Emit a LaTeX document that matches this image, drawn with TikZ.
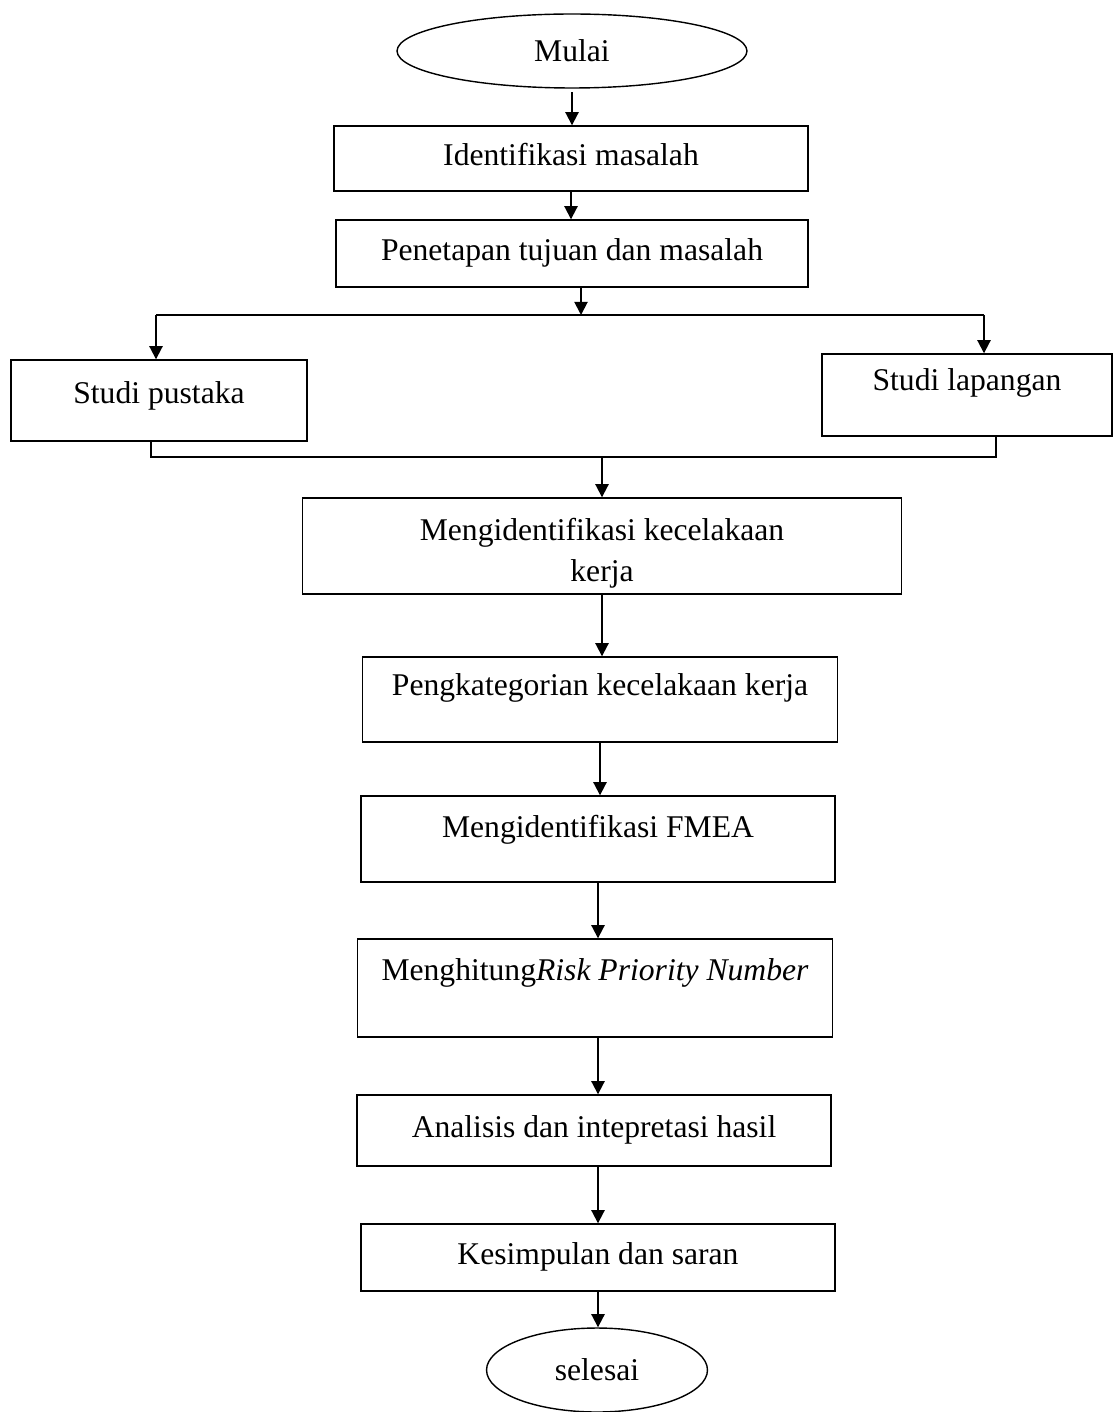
\documentclass[tikz,border=0pt]{standalone}
\usepackage{fontspec}
\setmainfont{Liberation Serif}
\usetikzlibrary{shapes.geometric, arrows.meta}

\begin{document}
\begin{tikzpicture}[x=0.02cm, y=-0.02cm, font=\fontsize{18pt}{23.8pt}\selectfont,
        box/.style={draw, line width=0.8pt, inner sep=0pt},
        txt/.style={text height=12.5pt, text depth=#1}, txt/.default=4pt,
        term/.style={draw, ellipse, line width=0.8pt, inner sep=0pt},
        arr/.style={line width=1.1pt, -{Triangle[length=7.5pt, width=7.5pt]}},
        link/.style={line width=1.1pt}]
        \useasboundingbox (0,0) rectangle (1114,1412);

        \node[term, minimum width=7cm, minimum height=1.48cm]           (mulai) at (572,51)      {Mulai};
        \node[box, txt, minimum width=9.48cm, minimum height=1.3cm]     (ident) at (571,158.5)   {Identifikasi masalah};
        \node[box, txt, minimum width=9.44cm, minimum height=1.34cm]    (penet) at (572,253.5)   {Penetapan tujuan dan masalah};
        \node[box, txt=9pt, minimum width=5.92cm, minimum height=1.62cm]   (pust) at (159,400.5) {Studi pustaka};
        \node[box, txt=17.6pt, minimum width=5.8cm, minimum height=1.64cm] (lap) at (967,395)    {Studi lapangan};
        \node[box, align=center, minimum width=11.98cm, minimum height=1.92cm] (mkk) at (602,546)
                {\rule{0pt}{21pt}Mengidentifikasi kecelakaan\\kerja};
        \node[box, txt=17pt, minimum width=9.5cm, minimum height=1.7cm]    (pkat) at (600,699.5) {Pengkategorian kecelakaan kerja};
        \node[box, txt=14pt, minimum width=9.48cm, minimum height=1.72cm]  (fmea) at (598,839)   {Mengidentifikasi FMEA};
        \node[box, txt=21pt, minimum width=9.5cm, minimum height=1.96cm]   (rpn) at (595,988)    {Menghitung\textit{Risk Priority Number}};
        \node[box, txt, minimum width=9.48cm, minimum height=1.42cm]    (anl) at (594,1130.5)    {Analisis dan intepretasi hasil};
        \node[box, txt, minimum width=9.48cm, minimum height=1.34cm]    (kes) at (598,1257.5)    {Kesimpulan dan saran};
        \node[term, minimum width=4.42cm, minimum height=1.68cm]        (sel) at (597,1370)      {selesai};

        % branch and join points
        \coordinate (split) at (581,315);
        \coordinate (brL)   at (156,315);
        \coordinate (brR)   at (984,315);
        \coordinate (joinL) at (151,457);
        \coordinate (joinR) at (996,457);
        \coordinate (join)  at (602,457);

        \draw[arr, shorten <=2pt] (mulai.south) -- (mulai.south |- ident.north);
        \draw[arr] (ident.south) -- (ident.south |- penet.north);
        \draw[arr] (penet.south -| split) -- (split);
        \draw[link] (brL) -- (brR);
        \draw[arr] (brL) -- (brL |- pust.north);
        \draw[arr] (brR) -- (brR |- lap.north);
        \draw[link] (pust.south -| joinL) -- (joinL) -- (joinR) -- (lap.south -| joinR);
        \draw[arr] (join) -- (join |- mkk.north);
        \draw[arr] (mkk.south) -- (mkk.south |- pkat.north);
        \draw[arr] (pkat.south) -- (pkat.south |- fmea.north);
        \draw[arr] (fmea.south) -- (fmea.south |- rpn.north);
        \draw[arr] (rpn.south -| kes.north) -- (anl.north -| kes.north);
        \draw[arr] (anl.south -| kes.north) -- (kes.north);
        \draw[arr] (kes.south) -- (kes.south |- sel.north);
\end{tikzpicture}
\end{document}
